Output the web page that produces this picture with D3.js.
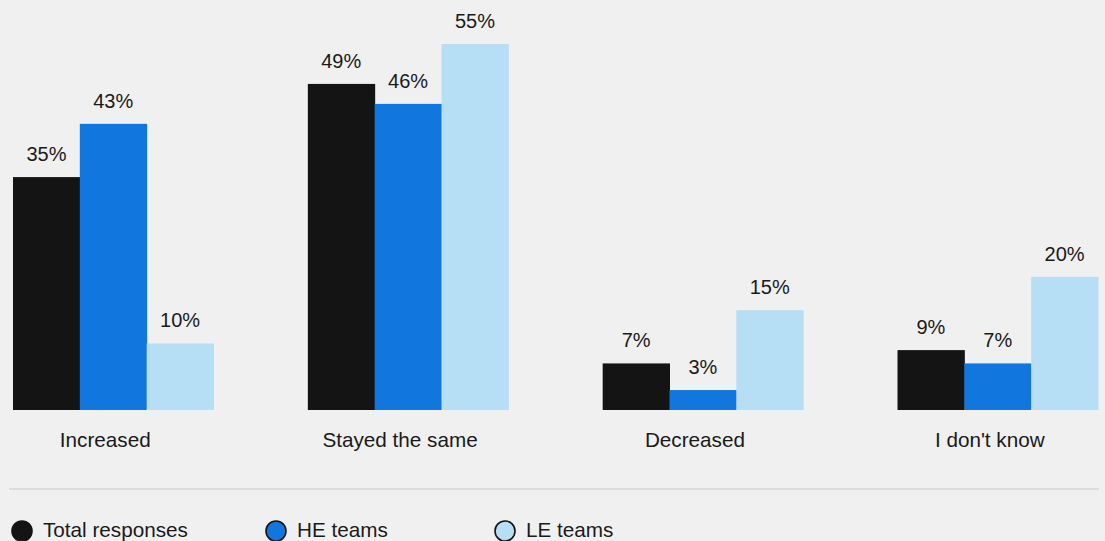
<!DOCTYPE html>
<html>
<head>
<meta charset="utf-8">
<script src="https://cdn.jsdelivr.net/npm/d3@7"></script>
<style>
  html, body { margin: 0; padding: 0; background: #f0f0f0; }
  svg { display: block; font-family: "Liberation Sans", Arial, sans-serif; }
</style>
</head>
<body>
<svg id="chart" width="1105" height="541"></svg>
<script>
// Survey answers by category and team type (percent)
const categories = ["Increased", "Stayed the same", "Decreased", "I don't know"];
const seriesNames = ["Total responses", "HE teams", "LE teams"];
const totalResponses = [35, 49, 7, 9];
const heTeams = [43, 46, 3, 7];
const leTeams = [10, 55, 15, 20];
const seriesValues = [totalResponses, heTeams, leTeams];
const colors = ["#141414", "#1177de", "#b6def5"];

const W = 1105, H = 541;
const svg = d3.select("#chart");
svg.append("rect").attr("width", W).attr("height", H).attr("fill", "#f0f0f0");

const x0 = d3.scaleBand().domain(categories).range([13, 1098]).paddingInner(0.32);
const x1 = d3.scaleBand().domain(seriesNames).range([0, x0.bandwidth()]);
const y = d3.scaleLinear().domain([0, 55]).range([410, 44]);

const rows = categories.map((c, i) => ({
  category: c,
  values: seriesNames.map((s, j) => ({ series: s, value: seriesValues[j][i], color: colors[j] }))
}));

const groups = svg.append("g").selectAll("g").data(rows).join("g")
  .attr("transform", d => `translate(${x0(d.category)},0)`);

groups.selectAll("rect").data(d => d.values).join("rect")
  .attr("x", d => x1(d.series))
  .attr("width", x1.bandwidth() + 0.5)
  .attr("y", d => y(d.value))
  .attr("height", d => y(0) - y(d.value))
  .attr("fill", d => d.color);

groups.selectAll("text.val").data(d => d.values).join("text")
  .attr("class", "val")
  .attr("x", d => x1(d.series) + x1.bandwidth() / 2)
  .attr("y", d => y(d.value) - 16)
  .attr("text-anchor", "middle")
  .attr("font-size", 20)
  .attr("fill", "#1a1a1a")
  .text(d => d.value + "%");

// Category axis (labels only)
const xAxis = svg.append("g").attr("transform", `translate(-8,${y(0)})`)
  .call(d3.axisBottom(x0).tickSize(0).tickPadding(0));
xAxis.select(".domain").remove();
xAxis.selectAll("text")
  .attr("y", 37).attr("dy", 0)
  .attr("font-size", 20.7)
  .attr("font-family", "Liberation Sans, Arial, sans-serif")
  .attr("fill", "#1a1a1a");

// Separator
svg.append("line")
  .attr("x1", 9).attr("x2", 1099)
  .attr("y1", 489).attr("y2", 489)
  .attr("stroke", "#dcdcdc").attr("stroke-width", 2);

// Legend
const legendX = [22, 276, 505];
const legend = svg.append("g").selectAll("g").data(seriesNames).join("g")
  .attr("transform", (d, i) => `translate(${legendX[i]},531)`);
legend.append("circle")
  .attr("r", 10)
  .attr("fill", (d, i) => colors[i])
  .attr("stroke", "#141414")
  .attr("stroke-width", 1.6);
legend.append("text")
  .attr("x", 21)
  .attr("y", 6)
  .attr("font-size", 20.7)
  .attr("fill", "#1a1a1a")
  .text(d => d);
</script>
</body>
</html>
